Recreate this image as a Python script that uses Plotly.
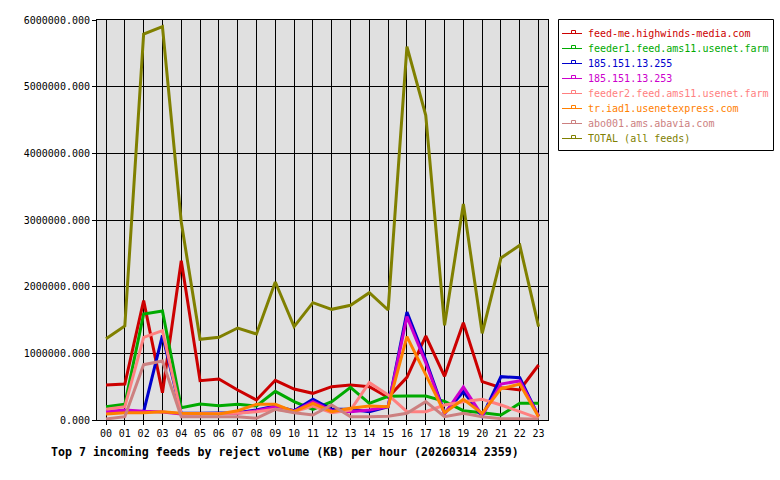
import plotly.graph_objects as go

hours = ["%02d" % h for h in range(24)]

feed_me = [525000, 540000, 1790000, 410000, 2390000, 590000, 615000, 450000, 300000, 595000, 465000, 400000,
           500000, 525000, 500000, 340000, 640000, 1260000, 655000, 1460000, 575000, 485000, 450000, 825000]
feeder1 = [200000, 235000, 1590000, 1635000, 185000, 240000, 215000, 235000, 210000, 430000, 275000, 160000,
           275000, 490000, 250000, 355000, 360000, 360000, 280000, 140000, 110000, 75000, 250000, 250000]
ip255 = [130000, 125000, 125000, 1270000, 100000, 100000, 100000, 110000, 150000, 210000, 140000, 310000,
         160000, 160000, 125000, 200000, 1620000, 900000, 100000, 425000, 55000, 650000, 635000, 55000]
ip253 = [125000, 150000, 130000, 120000, 90000, 90000, 90000, 100000, 140000, 200000, 130000, 275000,
         140000, 125000, 150000, 200000, 1550000, 860000, 90000, 495000, 65000, 540000, 585000, 60000]
feeder2 = [160000, 200000, 1240000, 1340000, 90000, 90000, 90000, 100000, 125000, 160000, 125000, 210000,
           110000, 150000, 560000, 375000, 125000, 125000, 225000, 275000, 310000, 225000, 125000, 25000]
iad1 = [90000, 110000, 110000, 125000, 100000, 90000, 90000, 140000, 235000, 235000, 125000, 250000,
        125000, 175000, 210000, 200000, 1250000, 680000, 110000, 310000, 100000, 470000, 540000, 50000]
abo001 = [15000, 50000, 830000, 885000, 50000, 50000, 50000, 50000, 25000, 160000, 110000, 75000,
          225000, 50000, 50000, 55000, 100000, 275000, 50000, 100000, 50000, 20000, 20000, 10000]
total = [1220000, 1410000, 5790000, 5900000, 2970000, 1210000, 1240000, 1380000, 1290000, 2070000, 1400000, 1760000,
         1660000, 1720000, 1910000, 1650000, 5600000, 4570000, 1420000, 3240000, 1300000, 2430000, 2620000, 1400000]

names = ["feed-me.highwinds-media.com", "feeder1.feed.ams11.usenet.farm", "185.151.13.255", "185.151.13.253",
         "feeder2.feed.ams11.usenet.farm", "tr.iad1.usenetexpress.com", "abo001.ams.abavia.com", "TOTAL (all feeds)"]
series = [feed_me, feeder1, ip255, ip253, feeder2, iad1, abo001, total]
colors = ["#cc0000", "#00aa00", "#0000cc", "#cc00cc", "#ff8080", "#ff8000", "#cc8080", "#808000"]

yticks = [0, 1000000, 2000000, 3000000, 4000000, 5000000, 6000000]
ytext = ["%.3f" % v for v in yticks]

# plot area in pixels (for placing the hand-drawn legend)
L, R, T, B = 97, 548, 20, 420
def px(x):
    return (x - L) / (R - L)
def py(y):
    return (B - y) / (B - T)

fig = go.Figure()
for nm, vals, col in zip(names, series, colors):
    fig.add_trace(go.Scatter(x=list(range(24)), y=vals, name=nm, mode="lines",
                             line=dict(color=col, width=3)))

mono = "DejaVu Sans Mono"
shapes = [dict(type="rect", xref="paper", yref="paper", x0=px(558.5), x1=px(773.5), y0=py(150.5), y1=py(19.5),
               line=dict(color="black", width=1), fillcolor="white", layer="above")]
annotations = []
for i, (nm, col) in enumerate(zip(names, colors)):
    yy = 33.5 + 15 * i
    shapes.append(dict(type="line", xref="paper", yref="paper", x0=px(562), x1=px(582), y0=py(yy), y1=py(yy),
                       line=dict(color=col, width=1), layer="above"))
    shapes.append(dict(type="rect", xref="paper", yref="paper", x0=px(571.5), x1=px(575.5), y0=py(yy), y1=py(yy - 3),
                       line=dict(color=col, width=1), fillcolor="rgba(0,0,0,0)", layer="above"))
    annotations.append(dict(text=nm, xref="paper", yref="paper", x=px(586), y=py(yy), xanchor="left",
                            yanchor="middle", showarrow=False, font=dict(family=mono, size=10, color=col)))

annotations.append(dict(text="<b>Top 7 incoming feeds by reject volume (KB) per hour (20260314 2359)</b>",
                        xref="paper", yref="paper", x=px(49), y=py(452), xanchor="left", yanchor="middle",
                        showarrow=False, font=dict(family=mono, size=11.6, color="black")))

fig.update_layout(
    width=780, height=480,
    margin=dict(l=L, r=780 - R, t=T, b=480 - B, pad=0),
    paper_bgcolor="white", plot_bgcolor="#e0e0e0",
    font=dict(family=mono, size=10, color="black"),
    showlegend=False,
    xaxis=dict(range=[-0.48, 23.5], tickvals=list(range(24)), ticktext=hours,
               showgrid=True, gridcolor="black", gridwidth=1,
               showline=True, linecolor="black", linewidth=1, mirror=True,
               ticks="outside", ticklen=4, tickcolor="black", zeroline=False,
               tickfont=dict(family=mono, size=10)),
    yaxis=dict(range=[0, 6000000], tickvals=yticks, ticktext=ytext,
               showgrid=True, gridcolor="black", gridwidth=1,
               showline=True, linecolor="black", linewidth=1, mirror=True,
               ticks="outside", ticklen=4, tickcolor="black", zeroline=False,
               tickfont=dict(family=mono, size=10)),
    shapes=shapes,
    annotations=annotations,
)

fig.write_html("out.html")
